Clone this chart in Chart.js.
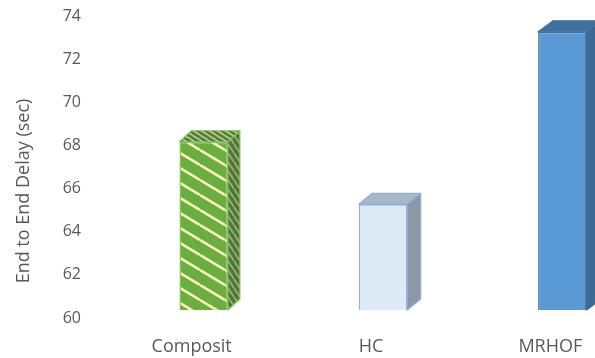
<!DOCTYPE html>
<html>
<head>
<meta charset="utf-8">
<script src="https://cdn.jsdelivr.net/npm/chart.js@4.4.0/dist/chart.umd.min.js"></script>
<style>
  html, body { margin: 0; padding: 0; background: #fff; overflow: hidden; }
  #wrap { width: 660px; height: 358px; }
</style>
</head>
<body>
<div id="wrap"><canvas id="grafica"></canvas></div>
<script>
// datos del grafico
const categorias = ['Composit', 'HC', 'MRHOF'];
const retardo = [67.8, 64.9, 72.9];
const ejeY = { min: 60, max: 74, paso: 2 };
const tituloY = 'End to End Delay (sec)';

// patron de rayas diagonales (ancho x alto de la celda)
function rayas(fondo, raya, ancho, alto, grosor) {
    const c = document.createElement('canvas');
    c.width = ancho; c.height = alto;
    const g = c.getContext('2d');
    g.fillStyle = fondo;
    g.fillRect(0, 0, ancho, alto);
    g.strokeStyle = raya;
    g.lineWidth = grosor;
    for (let k = -1; k <= 1; k++) {
        g.beginPath();
        g.moveTo(0, k * alto);
        g.lineTo(ancho, k * alto + alto);
        g.stroke();
    }
    return g.createPattern(c, 'repeat');
}

const frente = [rayas('#6aae3e', '#fcf2c4', 25, 15, 2.6), '#deebf7', '#5b9bd5'];
const bordes = ['#86c05e', '#8fb0e0', '#41709c'];
const lados = [rayas('#4a7b2c', '#a9a88a', 6, 9, 1.8), '#8c98a4', '#3c6a95'];
const tapas = [rayas('#4f8233', '#c7c9a2', 8, 5, 1.5), '#a9b6c6', '#41709c'];

// caras laterales y superior para el efecto 3D + titulo del eje y
const caras3d = {
    id: 'caras3d',
    afterDatasetsDraw(chart) {
        const ctx = chart.ctx;
        const meta = chart.getDatasetMeta(0);
        const suelo = chart.chartArea.bottom;
        meta.data.forEach((bar, i) => {
            const p = bar.getProps(['x', 'y', 'base', 'width'], true);
            const izq = p.x - p.width / 2, der = p.x + p.width / 2;
            const fondo = Math.min(p.base, suelo);
            const dx = 12 + i * 1.5, dy = -11;
            ctx.save();
            ctx.lineWidth = 1.2;
            ctx.strokeStyle = bordes[i];
            ctx.lineJoin = 'round';
            // lado
            ctx.beginPath();
            ctx.moveTo(der, p.y);
            ctx.lineTo(der + dx, p.y + dy);
            ctx.lineTo(der + dx, fondo + dy);
            ctx.lineTo(der, fondo);
            ctx.closePath();
            ctx.fillStyle = lados[i];
            ctx.fill();
            ctx.stroke();
            // tapa
            ctx.beginPath();
            ctx.moveTo(izq, p.y);
            ctx.lineTo(izq + dx, p.y + dy);
            ctx.lineTo(der + dx, p.y + dy);
            ctx.lineTo(der, p.y);
            ctx.closePath();
            ctx.fillStyle = tapas[i];
            ctx.fill();
            ctx.stroke();
            ctx.restore();
        });
    },
    afterDraw(chart) {
        // el titulo del eje va algo mas abajo que el centro del eje
        const ctx = chart.ctx;
        const area = chart.chartArea;
        ctx.save();
        ctx.translate(24, area.bottom - 119);
        ctx.rotate(-Math.PI / 2);
        ctx.font = '18px "Open Sans"';
        ctx.fillStyle = '#595959';
        ctx.textAlign = 'center';
        ctx.textBaseline = 'middle';
        ctx.fillText(tituloY, 0, 0);
        ctx.restore();
    }
};

const chart = new Chart(document.getElementById('grafica'), {
    type: 'bar',
    data: {
        labels: categorias,
        datasets: [{
            label: tituloY,
            data: retardo,
            backgroundColor: frente,
            borderColor: bordes,
            borderWidth: 1.5,
            barPercentage: 0.27,
            categoryPercentage: 1
        }]
    },
    options: {
        responsive: true,
        maintainAspectRatio: false,
        animation: false,
        layout: { padding: { left: 9, right: 8, top: 8, bottom: 0 } },
        plugins: { legend: { display: false }, tooltip: { enabled: false } },
        scales: {
            x: {
                grid: { display: false },
                border: { display: false },
                ticks: {
                    color: '#595959',
                    font: { family: 'Open Sans', size: 18 },
                    padding: 18,
                    labelOffset: -12
                },
                afterFit: (s) => { s.height = 48; }
            },
            y: {
                min: ejeY.min,
                max: ejeY.max,
                grid: { display: false, drawTicks: false },
                border: { display: false },
                ticks: {
                    stepSize: ejeY.paso,
                    color: '#595959',
                    font: { family: 'Open Sans', size: 16 },
                    padding: 33,
                    labelOffset: 8
                },
                afterFit: (s) => {
                    s.width = 105;
                    s.paddingTop = 0;
                    s.paddingBottom = 0;
                }
            }
        }
    },
    plugins: [caras3d]
});
</script>
</body>
</html>
